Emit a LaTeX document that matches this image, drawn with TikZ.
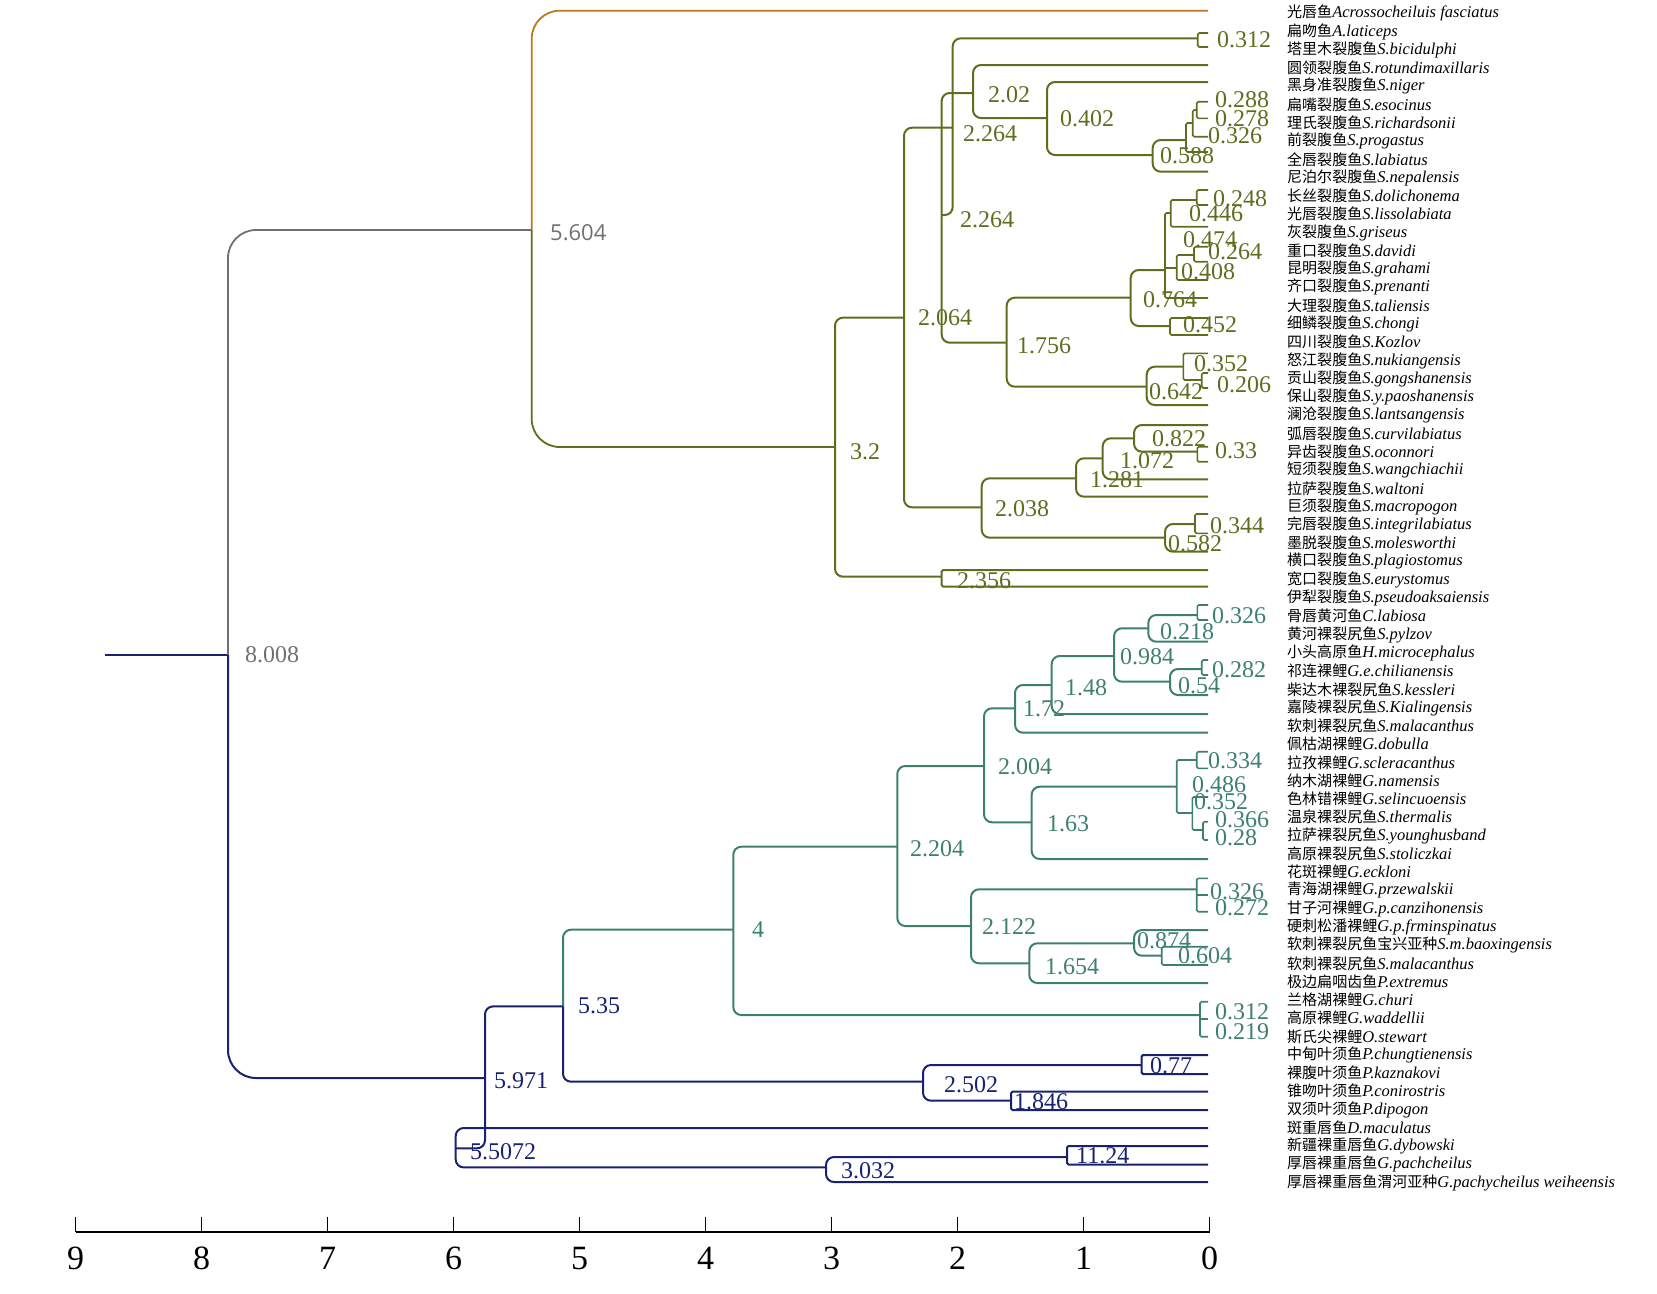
\documentclass[tikz,border=0pt]{standalone}
\usepackage{fontspec}
\setmainfont{Liberation Serif}
\newfontfamily\cjk{Noto Sans CJK SC}[Scale=0.91]
\newfontfamily\sansnum{Open Sans}
\usetikzlibrary{calc}

\definecolor{brorange}{RGB}{184,122,28}
\definecolor{brolive}{RGB}{98,108,30}
\definecolor{brteal}{RGB}{62,128,112}
\definecolor{brnavy}{RGB}{24,34,112}
\definecolor{brgray}{RGB}{112,112,112}

\tikzset{
  leaf/.style={anchor=west,inner sep=0pt,font=\fontsize{16.5}{17}\selectfont},
  num/.style={anchor=west,inner sep=0pt,font=\fontsize{24}{26}\selectfont},
  axisnum/.style={anchor=north,inner sep=0pt,font=\fontsize{34}{36}\selectfont},
  br/.style={line width=2pt,rounded corners=8pt},
  sbr/.style={line width=1.6pt,rounded corners=1.5pt},
  bigbr/.style={line width=1.8pt,rounded corners=28pt}
}

\newcommand{\tipx}{1208}
\newcommand{\clade}[5]{\draw (#3,#2) -- (#1,#2) -- (#1,#4) -- (#5,#4);}
\newcommand{\brk}[3]{\draw[sbr] (\tipx,#2) -- (#1,#2) -- (#1,#3) -- (\tipx,#3);}

\begin{document}
\begin{tikzpicture}[x=1pt,y=-1pt]
\useasboundingbox (0,0) rectangle (1657,1293);

% root
\draw[brnavy,line width=2pt] (105,654.6) -- (228,654.6);
\draw[brgray,bigbr] (228,654.6) -- (228,230) -- (531.7,230);
\draw[brnavy,bigbr,line width=2pt] (228,654.6) -- (228,1078) -- (485,1078);
\draw[brorange,bigbr] (531.7,230) -- (531.7,10.7) -- (\tipx,10.7);
\draw[brolive,bigbr] (531.7,230) -- (531.7,447) -- (835,447);
\node[num,brgray] (n8008) at (245,654.6) {8.008};
\node[num,brgray,font=\sansnum\fontsize{22}{24}\selectfont] (n5604) at (550,233) {5.604};

% olive clade
\begin{scope}[brolive,br]
\clade{835}{317.7}{904}{576.7}{941.7}
\draw[sbr,line width=2pt] (\tipx,570) -- (941.7,570) -- (941.7,586.7) -- (\tipx,586.7);
\clade{904}{127.7}{952.7}{507.3}{981.7}
\draw (1197.7,38.3) -- (952.7,38.3) -- (952.7,215) -- (941.7,215);
\clade{941.7}{93}{973}{342.7}{1006.7}
\clade{973}{65}{\tipx}{118}{1047}
\clade{1047}{82}{\tipx}{155}{1152.7}
\clade{1152.7}{140}{1186}{171.7}{\tipx}
\draw[sbr] (1192.7,123) -- (1186,123) -- (1186,152) -- (\tipx,152);
\draw[sbr] (1196.7,110) -- (1192.7,110) -- (1192.7,136.7) -- (\tipx,136.7);
\brk{1196.7}{101.7}{118.3}
\brk{1197.7}{33}{47}
\draw[sbr] (1170.7,213) -- (1165,213) -- (1165,298) -- (\tipx,298);
\draw[sbr] (1165,268) -- (1176.7,268);
\draw[sbr] (1196.7,200) -- (1170.7,200) -- (1170.7,226.7) -- (\tipx,226.7);
\brk{1196.7}{190}{205}
\draw[sbr] (1194,255) -- (1176.7,255) -- (1176.7,280) -- (\tipx,280);
\brk{1194}{246.7}{261.7}
\clade{1130.7}{270}{1165}{326}{1170}
\brk{1170}{318}{335}
\clade{1006.7}{297.7}{1130.7}{386.7}{1146.7}
\clade{1146.7}{366.7}{1183.3}{405}{\tipx}
\draw[sbr] (\tipx,353.3) -- (1183.3,353.3) -- (1183.3,380) -- (1201.7,380);
\brk{1201.7}{373}{388}
\clade{981.7}{478.3}{1076}{537.7}{1165}
\clade{1076}{458.3}{1102.7}{496.7}{\tipx}
\clade{1102.7}{438.3}{1134}{479.3}{\tipx}
\clade{1134}{425}{\tipx}{451.7}{1197.3}
\brk{1197.3}{446.7}{461.7}
\clade{1165}{524}{1195}{551.7}{\tipx}
\brk{1195}{514}{533.3}
\end{scope}
\foreach \px/\py/\tx [count=\k] in {1217/40/0.312, 988/94.5/2.02, 963/133.5/2.264,
  1060/119/0.402, 1215/100/0.288, 1215/119/0.278, 1208/136/0.326, 1160/156/0.588,
  1213/199/0.248, 960/220/2.264, 1189/214/0.446, 1183/240/0.474, 1208/252/0.264,
  1181/272/0.408, 1143/300/0.764, 918/317.5/2.064, 1183/325/0.452, 1017/346/1.756,
  1194/364/0.352, 1217/385/0.206, 1149/392/0.642, 850/452/3.2, 1152/439/0.822,
  1120/461/1.072, 1215/451/0.33, 1090/480/1.281, 995/509/2.038, 1210/526/0.344,
  1168/544/0.582, 957/581/2.356}
  \node[num,brolive] (ol\k) at (\px,\py) {\tx};

% teal clade
\begin{scope}[brteal,br]
\draw (733.3,929.7) -- (563,929.7) -- (563,1006.4);
\clade{733.3}{846.7}{897.3}{1015}{1200}
\draw[sbr] (\tipx,1001.7) -- (1200,1001.7) -- (1200,1036.7) -- (\tipx,1036.7);
\draw[sbr] (1200,1019) -- (\tipx,1019);
\clade{897.3}{766}{984}{926}{971}
\clade{984}{708.3}{1015}{822.3}{1031.7}
\clade{1015}{685}{1051.7}{732.7}{\tipx}
\clade{1051.7}{656}{1114}{714}{\tipx}
\clade{1114}{628.3}{1148.3}{681.7}{1170}
\clade{1148.3}{615}{1197.3}{641.7}{\tipx}
\brk{1197.3}{605}{620}
\clade{1170}{669}{1201.7}{695}{\tipx}
\brk{1201.7}{660}{675}
\clade{1031.7}{786.7}{1176.7}{859}{\tipx}
\draw[sbr] (1196.7,760) -- (1176.7,760) -- (1176.7,813) -- (1192.3,813);
\brk{1196.7}{751.7}{768.3}
\draw[sbr] (\tipx,797) -- (1192.3,797) -- (1192.3,830) -- (1203,830);
\brk{1203}{821.7}{840}
\clade{971}{889.3}{1196.7}{963.3}{1029.3}
\brk{1196.7}{878.3}{911.7}
\draw[sbr] (1196.7,895) -- (\tipx,895);
\clade{1029.3}{943.3}{1134}{983}{\tipx}
\clade{1134}{930}{\tipx}{955.7}{1161.7}
\draw[sbr] (\tipx,946.7) -- (1161.7,946.7) -- (1161.7,965) -- (\tipx,965);
\end{scope}
\foreach \px/\py/\tx [count=\k] in {1212/616/0.326, 1160/632/0.218, 1120/657/0.984,
  1212/670/0.282, 1178/686/0.54, 1065/688/1.48, 1023/709/1.72, 1208/761/0.334,
  998/767/2.004, 1192/785/0.486, 1194/802/0.352, 1047/824/1.63, 1215/820/0.366,
  1215/838/0.28, 910/849/2.204, 1210/892/0.326, 1215/908/0.272, 982/927/2.122,
  752/930/4, 1137/941/0.874, 1178/956/0.604, 1045/967/1.654, 1215/1012/0.312,
  1215/1032/0.219}
  \node[num,brteal] (te\k) at (\px,\py) {\tx};

% navy clade
\begin{scope}[brnavy,br]
\draw (563,1006.4) -- (563,1081.7) -- (923,1081.7);
\clade{485}{1006.4}{563}{1148.3}{455.7}
\clade{923}{1065}{1141.6}{1100.7}{1011}
\draw[sbr,line width=2pt] (\tipx,1055) -- (1141.6,1055) -- (1141.6,1074) -- (\tipx,1074);
\draw[sbr,line width=2pt] (\tipx,1091.7) -- (1011,1091.7) -- (1011,1110) -- (\tipx,1110);
\draw (\tipx,1128) -- (455.7,1128) -- (455.7,1167.4) -- (826,1167.4);
\clade{826}{1157}{1067}{1182}{\tipx}
\draw[sbr,line width=2pt] (\tipx,1146) -- (1067,1146) -- (1067,1164.5) -- (\tipx,1164.5);
\end{scope}
\foreach \px/\py/\tx [count=\k] in {578/1006/5.35, 1150/1066/0.77, 494/1081/5.971,
  944/1085/2.502, 1014/1102/1.846, 470/1152/5.5072, 1076/1156/11.24, 841/1171/3.032}
  \node[num,brnavy] (nv\k) at (\px,\py) {\tx};

% species
\foreach \cn/\la [count=\i] in {光唇鱼/Acrossocheiluis fasciatus, 扁吻鱼/A.laticeps,
  塔里木裂腹鱼/S.bicidulphi, 圆领裂腹鱼/S.rotundimaxillaris, 黑身准裂腹鱼/S.niger,
  扁嘴裂腹鱼/S.esocinus, 理氏裂腹鱼/S.richardsonii, 前裂腹鱼/S.progastus,
  全唇裂腹鱼/S.labiatus, 尼泊尔裂腹鱼/S.nepalensis, 长丝裂腹鱼/S.dolichonema,
  光唇裂腹鱼/S.lissolabiata, 灰裂腹鱼/S.griseus, 重口裂腹鱼/S.davidi,
  昆明裂腹鱼/S.grahami, 齐口裂腹鱼/S.prenanti, 大理裂腹鱼/S.taliensis,
  细鳞裂腹鱼/S.chongi, 四川裂腹鱼/S.Kozlov, 怒江裂腹鱼/S.nukiangensis,
  贡山裂腹鱼/S.gongshanensis, 保山裂腹鱼/S.y.paoshanensis, 澜沧裂腹鱼/S.lantsangensis,
  弧唇裂腹鱼/S.curvilabiatus, 异齿裂腹鱼/S.oconnori, 短须裂腹鱼/S.wangchiachii,
  拉萨裂腹鱼/S.waltoni, 巨须裂腹鱼/S.macropogon, 完唇裂腹鱼/S.integrilabiatus,
  墨脱裂腹鱼/S.molesworthi, 横口裂腹鱼/S.plagiostomus, 宽口裂腹鱼/S.eurystomus,
  伊犁裂腹鱼/S.pseudoaksaiensis, 骨唇黄河鱼/C.labiosa, 黄河裸裂尻鱼/S.pylzov,
  小头高原鱼/H.microcephalus, 祁连裸鲤/G.e.chilianensis, 柴达木裸裂尻鱼/S.kessleri,
  嘉陵裸裂尻鱼/S.Kialingensis, 软刺裸裂尻鱼/S.malacanthus, 佩枯湖裸鲤/G.dobulla,
  拉孜裸鲤/G.scleracanthus, 纳木湖裸鲤/G.namensis, 色林错裸鲤/G.selincuoensis,
  温泉裸裂尻鱼/S.thermalis, 拉萨裸裂尻鱼/S.younghusband, 高原裸裂尻鱼/S.stoliczkai,
  花斑裸鲤/G.eckloni, 青海湖裸鲤/G.przewalskii, 甘子河裸鲤/G.p.canzihonensis,
  硬刺松潘裸鲤/G.p.frminspinatus, 软刺裸裂尻鱼宝兴亚种/S.m.baoxingensis,
  软刺裸裂尻鱼/S.malacanthus, 极边扁咽齿鱼/P.extremus, 兰格湖裸鲤/G.churi,
  高原裸鲤/G.waddellii, 斯氏尖裸鲤/O.stewart, 中甸叶须鱼/P.chungtienensis,
  裸腹叶须鱼/P.kaznakovi, 锥吻叶须鱼/P.conirostris, 双须叶须鱼/P.dipogon,
  斑重唇鱼/D.maculatus, 新疆裸重唇鱼/G.dybowski, 厚唇裸重唇鱼/G.pachcheilus,
  厚唇裸重唇鱼渭河亚种/G.pachycheilus weiheensis}
  \node[leaf] (sp\i) at (1287,{13.3+(\i-1)*18.27}) {{\cjk\cn}\textit{\la}};

% time axis
\draw[line width=2.2pt] (75.7,1231.7) -- (1210,1231.7);
\foreach \v [count=\k from 0] in {9,...,0} {
  \draw[line width=1.5pt] (75.7+\k*126,1217) -- (75.7+\k*126,1231.7);
  \node[axisnum] (ax\v) at (75.7+\k*126,1247) {\v};
}

\end{tikzpicture}
\end{document}
